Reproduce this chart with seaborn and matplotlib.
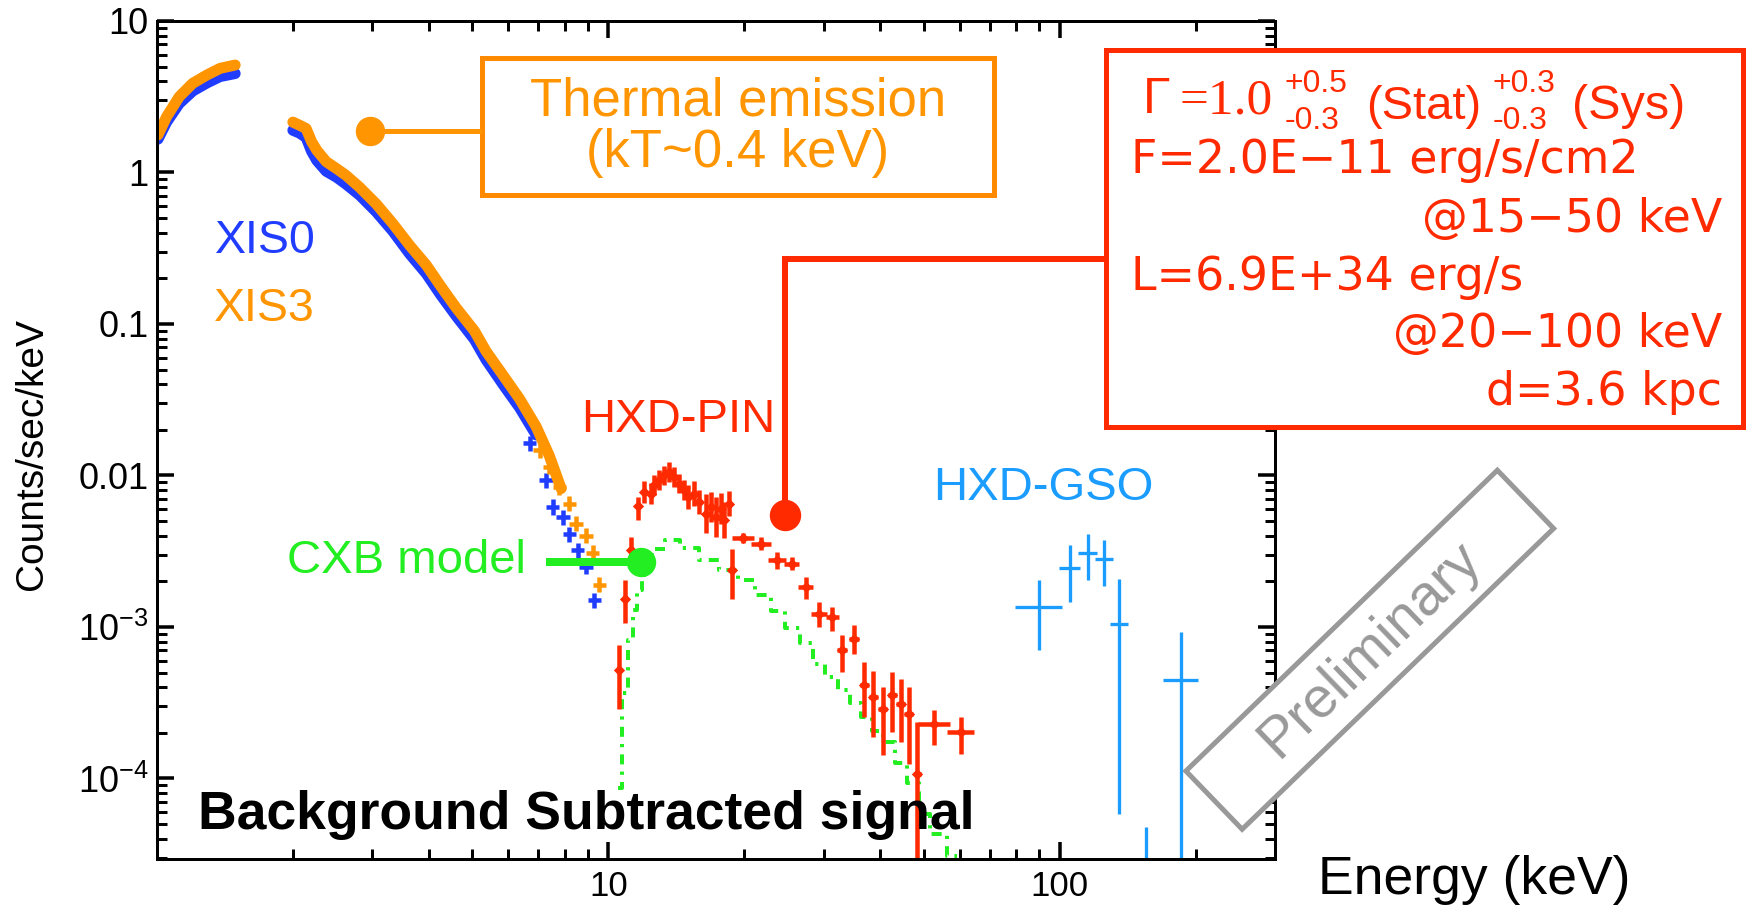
import numpy as np
import pandas as pd
import matplotlib
matplotlib.use("Agg")
import matplotlib.pyplot as plt
import seaborn as sns
from matplotlib.patches import Rectangle
from matplotlib.lines import Line2D
from matplotlib import transforms
from matplotlib.ticker import FixedLocator, FixedFormatter, LogLocator, NullFormatter

# ---------------- data ----------------
xis3_seg1_e = [1.005, 1.05, 1.12, 1.20, 1.29, 1.38, 1.49]
xis3_seg1_c = [1.77, 2.33, 3.16, 3.88, 4.40, 4.87, 5.12]
xis0_seg1_e = [1.005, 1.05, 1.12, 1.20, 1.29, 1.38, 1.49]
xis0_seg1_c = [1.66, 2.15, 2.85, 3.45, 3.90, 4.30, 4.50]

xis3_seg2_e = [2.00, 2.07, 2.14, 2.20, 2.26, 2.37, 2.50, 2.62, 2.81, 3.06, 3.33,
               3.63, 3.95, 4.25, 4.60, 5.05, 5.36, 5.84, 6.36, 6.92, 7.40, 7.86]
xis3_seg2_c = [2.15, 2.05, 1.95, 1.60, 1.40, 1.18, 1.06, 0.96, 0.80, 0.62, 0.46,
               0.33, 0.245, 0.178, 0.128, 0.090, 0.066, 0.046, 0.032, 0.021, 0.0135, 0.0082]
xis0_seg2_e = [2.00, 2.07, 2.14, 2.20, 2.26, 2.37, 2.50, 2.62, 2.81, 3.06, 3.33,
               3.63, 3.95, 4.25, 4.60, 5.05, 5.36, 5.84, 6.36, 6.92]
xis0_seg2_c = [1.90, 1.82, 1.70, 1.38, 1.20, 1.02, 0.93, 0.84, 0.71, 0.55, 0.41,
               0.29, 0.215, 0.156, 0.113, 0.079, 0.058, 0.040, 0.028, 0.0185]

xis3_tail_e = [7.04, 7.40, 7.79, 8.20, 8.48, 8.93, 9.23, 9.55]
xis3_tail_c = [0.0147, 0.0114, 0.0084, 0.0065, 0.0048, 0.0040, 0.0031, 0.0019]
xis0_tail_e = [6.69, 7.28, 7.53, 7.93, 8.20, 8.55, 8.93, 9.31]
xis0_tail_c = [0.0163, 0.0093, 0.0062, 0.0053, 0.0041, 0.0032, 0.0025, 0.0015]

pin_e = [10.58, 10.90, 11.22, 11.61, 12.02, 12.43, 12.64, 12.97, 13.30, 13.65, 14.00,
         14.36, 14.73, 14.98, 15.49, 15.90, 16.45, 16.87, 17.31, 17.76, 18.06, 18.52,
         18.78, 19.89, 21.77, 23.70, 25.50, 27.38, 29.30, 31.35, 33.00, 35.02, 36.86,
         38.64, 40.59, 42.56, 44.42, 46.34, 48.35, 52.62, 60.30]
pin_c = [5.17e-4, 1.54e-3, 3.21e-3, 6.26e-3, 7.78e-3, 7.59e-3, 8.61e-3, 9.29e-3, 1.00e-2,
         1.05e-2, 9.77e-3, 8.84e-3, 7.98e-3, 7.21e-3, 7.59e-3, 6.68e-3, 5.60e-3, 6.19e-3,
         5.32e-3, 6.04e-3, 5.06e-3, 6.52e-3, 2.36e-3, 3.89e-3, 3.55e-3, 2.75e-3, 2.62e-3,
         1.83e-3, 1.22e-3, 1.16e-3, 7.00e-4, 8.37e-4, 4.11e-4, 3.44e-4, 2.89e-4, 3.53e-4,
         3.11e-4, 2.67e-4, 1.07e-4, 2.30e-4, 2.02e-4]
pin_up_dex = [0.165, 0.121, 0.088, 0.062, 0.07, 0.07, 0.065, 0.065, 0.065, 0.065, 0.065,
              0.065, 0.065, 0.08, 0.08, 0.08, 0.13, 0.10, 0.13, 0.10, 0.12, 0.08,
              0.143, 0.033, 0.044, 0.055, 0.044, 0.066, 0.077, 0.066, 0.099, 0.088, 0.154,
              0.176, 0.143, 0.154, 0.165, 0.176, 0.341, 0.088, 0.099]
pin_lo_dex = [0.253, 0.161, 0.066, 0.088, 0.07, 0.07, 0.065, 0.065, 0.065, 0.065, 0.065,
              0.065, 0.065, 0.08, 0.08, 0.08, 0.13, 0.10, 0.13, 0.10, 0.12, 0.08,
              0.187, 0.033, 0.044, 0.055, 0.044, 0.077, 0.088, 0.088, 0.143, 0.099, 0.209,
              0.264, 0.308, 0.242, 0.253, 0.33, 2.0, 0.143, 0.143]
pin_x_dex = [0.006, 0.006, 0.006, 0.006, 0.006, 0.006, 0.006, 0.006, 0.006, 0.006, 0.006,
             0.006, 0.006, 0.006, 0.006, 0.006, 0.006, 0.006, 0.006, 0.006, 0.006, 0.006,
             0.008, 0.024, 0.022, 0.020, 0.017, 0.017, 0.017, 0.015, 0.011, 0.011, 0.010,
             0.010, 0.010, 0.010, 0.010, 0.010, 0.008, 0.035, 0.030]

gso_e = [89.85, 105.2, 115.3, 125.1, 135.5, 185.5, 155.2]
gso_c = [1.35e-3, 2.46e-3, 3.08e-3, 2.80e-3, 1.05e-3, 4.44e-4, 1.0e-5]
gso_e_lo = [79.8, 99.5, 109.8, 119.9, 129.5, 169.0, 155.2]
gso_e_hi = [101.2, 111.1, 120.9, 131.2, 141.6, 202.3, 155.2]
gso_c_lo = [7.0e-4, 1.46e-3, 2.05e-3, 1.85e-3, 5.85e-5, 1e-6, 1e-6]
gso_c_hi = [2.03e-3, 3.46e-3, 4.13e-3, 3.73e-3, 2.08e-3, 9.25e-4, 4.77e-5]

cxb_e = [10.52, 10.90, 11.24, 11.47, 11.71, 12.02, 12.39, 12.90, 13.79, 15.11, 16.73,
         18.52, 20.20, 22.13, 23.65, 25.53, 27.56, 29.30, 31.15, 33.28, 35.20, 37.41,
         39.37, 41.64, 44.48, 47.53, 50.02, 53.44, 59.17]
cxb_c = [8.59e-5, 3.64e-4, 8.15e-4, 1.29e-3, 1.75e-3, 2.19e-3, 2.97e-3, 3.25e-3, 3.73e-3,
         3.30e-3, 2.75e-3, 2.36e-3, 2.03e-3, 1.62e-3, 1.27e-3, 9.80e-4, 7.80e-4, 5.66e-4,
         4.65e-4, 3.81e-4, 3.13e-4, 2.53e-4, 2.07e-4, 1.73e-4, 1.26e-4, 9.27e-5, 5.87e-5,
         4.33e-5, 3.10e-5]

thermal_anchor = (2.96, 1.89)
pin_anchor = (24.6, 5.5e-3)
cxb_anchor = (11.8, 2.7e-3)

xticks = [10, 100]
xtick_labels = ["10", "100"]
yticks = [10, 1, 0.1, 0.01, 1e-3, 1e-4]
ytick_labels = ["10", "1", "0.1", "0.01", r"$\mathregular{10^{-3}}$", r"$\mathregular{10^{-4}}$"]

# ---------------- style ----------------
sns.set_theme(style="ticks")
plt.rcParams["font.family"] = ["Liberation Sans", "DejaVu Sans"]
plt.rcParams["mathtext.fontset"] = "custom"
plt.rcParams["mathtext.rm"] = "Liberation Sans"
plt.rcParams["mathtext.it"] = "Liberation Sans:italic"
plt.rcParams["mathtext.bf"] = "Liberation Sans:bold"

C_BLUE = "#1f3cff"
C_ORANGE = "#ff9500"
C_RED = "#ff2a00"
C_GREEN = "#22ee22"
C_GSO = "#1b9cff"
C_GRAY = "#999999"
PX = 0.72  # points per pixel at dpi 100

W, H, DPI = 1746, 905, 100
fig = plt.figure(figsize=(W / DPI, H / DPI), dpi=DPI)
fig.patch.set_facecolor("white")
ax = fig.add_axes([157 / W, 1 - 859 / H, (1275 - 157) / W, (859 - 21) / H])
ax.set_facecolor("white")


def fx(px):
    return px / W


def fy(py):
    return 1 - py / H


ax.set_xscale("log")
ax.set_yscale("log")
ax.set_xlim(1.0, 300)
ax.set_ylim(2.94e-5, 10)

# XIS bands
for e, c in [(xis0_seg1_e, xis0_seg1_c), (xis0_seg2_e, xis0_seg2_c)]:
    sns.lineplot(x=e, y=c, ax=ax, color=C_BLUE, lw=11 * PX, estimator=None, sort=False,
                 solid_capstyle="round", zorder=3)
for e, c in [(xis3_seg1_e, xis3_seg1_c), (xis3_seg2_e, xis3_seg2_c)]:
    sns.lineplot(x=e, y=c, ax=ax, color=C_ORANGE, lw=11 * PX, estimator=None, sort=False,
                 solid_capstyle="round", zorder=4)

for e, c, col, z in [(xis0_tail_e, xis0_tail_c, C_BLUE, 3), (xis3_tail_e, xis3_tail_c, C_ORANGE, 4)]:
    e = np.array(e)
    c = np.array(c)
    ax.errorbar(e, c, xerr=[e - e * 10 ** -0.015, e * 10 ** 0.015 - e],
                yerr=[c - c * 10 ** -0.05, c * 10 ** 0.05 - c],
                fmt="none", ecolor=col, elinewidth=4.5 * PX, capsize=0, zorder=z)

# CXB model
sns.lineplot(x=cxb_e, y=cxb_c, ax=ax, color=C_GREEN, lw=4 * PX, estimator=None, sort=False,
             drawstyle="steps-mid", dashes=False, linestyle=(0, (2.5, 1.8, 0.8, 1.8)), zorder=5)

# HXD-PIN
pe = np.array(pin_e)
pc = np.array(pin_c)
pxd = np.array(pin_x_dex)
ax.errorbar(pe, pc,
            xerr=[pe - pe * 10 ** -pxd, pe * 10 ** pxd - pe],
            yerr=[pc - pc * 10 ** -np.array(pin_lo_dex), pc * 10 ** np.array(pin_up_dex) - pc],
            fmt="none", ecolor=C_RED, elinewidth=4.5 * PX, capsize=0, zorder=6)
sns.scatterplot(x=pin_e, y=pin_c, ax=ax, color=C_RED, marker="D", s=(8 * PX) ** 2,
                linewidth=0, zorder=7)

# HXD-GSO
ge = np.array(gso_e)
gc = np.array(gso_c)
ax.errorbar(ge, gc, xerr=[ge - np.array(gso_e_lo), np.array(gso_e_hi) - ge],
            yerr=[gc - np.array(gso_c_lo), np.array(gso_c_hi) - gc],
            fmt="none", ecolor=C_GSO, elinewidth=3.3 * PX, capsize=0, zorder=6)

# axes styling
for s in ax.spines.values():
    s.set_linewidth(3 * PX)
    s.set_color("black")
    s.set_zorder(8)
ax.xaxis.set_major_locator(FixedLocator(xticks))
ax.xaxis.set_major_formatter(FixedFormatter(xtick_labels))
ax.xaxis.set_minor_locator(LogLocator(base=10, subs=np.arange(2, 10)))
ax.xaxis.set_minor_formatter(NullFormatter())
ax.yaxis.set_major_locator(FixedLocator(yticks))
ax.yaxis.set_major_formatter(FixedFormatter(ytick_labels))
ax.yaxis.set_minor_locator(LogLocator(base=10, subs=np.arange(2, 10)))
ax.yaxis.set_minor_formatter(NullFormatter())
ax.tick_params(which="both", direction="in", top=True, right=True, colors="black")
ax.tick_params(which="major", length=17 * PX, width=3.5 * PX)
ax.tick_params(which="minor", length=10 * PX, width=3 * PX)
ax.tick_params(axis="y", which="major", pad=6, labelsize=26)
ax.tick_params(axis="x", which="major", pad=8, labelsize=25)
ax.set_xlabel("")
ax.set_ylabel("")
ax.grid(False)

# ---------------- annotations ----------------
fig.text(fx(32), fy(454), "Counts/sec/keV", rotation=90, ha="center", va="center",
         fontsize=28, color="black")
fig.text(fx(1318), fy(894), "Energy (keV)", ha="left", va="baseline", fontsize=38.5, color="black")
fig.text(fx(198), fy(829), "Background Subtracted signal", ha="left", va="baseline",
         fontsize=38.5, fontweight="bold", color="black", zorder=9)
fig.text(fx(215), fy(253), "XIS0", ha="left", va="baseline", fontsize=33.5, color=C_BLUE)
fig.text(fx(214), fy(321), "XIS3", ha="left", va="baseline", fontsize=33.5, color=C_ORANGE)
fig.text(fx(581), fy(432), "HXD-PIN", ha="left", va="baseline", fontsize=34, color=C_RED)
fig.text(fx(933), fy(500), "HXD-GSO", ha="left", va="baseline", fontsize=34, color=C_GSO)
fig.text(fx(287), fy(573), "CXB model", ha="left", va="baseline", fontsize=34, color=C_GREEN)


def disp(pt):
    return ax.transData.transform(pt)


def add_line(x0, y0, x1, y1, color, lw):
    # coordinates in figure pixels (origin top-left)
    fig.add_artist(Line2D([fx(x0), fx(x1)], [fy(y0), fy(y1)], transform=fig.transFigure,
                          color=color, lw=lw, solid_capstyle="butt", zorder=10))


# thermal box
fig.add_artist(Rectangle((fx(482), fy(195)), fx(994) - fx(482), fy(58) - fy(195),
                         transform=fig.transFigure, fill=True, facecolor="white",
                         edgecolor="#ff8a00", lw=5 * PX, zorder=10))
fig.text(fx(738), fy(116), "Thermal emission", ha="center", va="baseline", fontsize=38,
         color=C_ORANGE, zorder=11)
fig.text(fx(738), fy(167), "(kT~0.4 keV)", ha="center", va="baseline", fontsize=38,
         color=C_ORANGE, zorder=11)
tx, ty = disp(thermal_anchor)
add_line(tx, H - ty, 482, H - ty, C_ORANGE, 5 * PX)
ax.plot([thermal_anchor[0]], [thermal_anchor[1]], marker="o", ms=28 * PX, color=C_ORANGE,
        mec=C_ORANGE, clip_on=False, zorder=11)

# PIN fit box
fig.add_artist(Rectangle((fx(1106), fy(427)), fx(1743) - fx(1106), fy(50) - fy(427),
                         transform=fig.transFigure, fill=True, facecolor="white",
                         edgecolor=C_RED, lw=5 * PX, zorder=10))
px_, py_ = disp(pin_anchor)
add_line(px_, H - py_, px_, 259, C_RED, 6 * PX)
add_line(px_ - 3, 259, 1106, 259, C_RED, 6 * PX)
ax.plot([pin_anchor[0]], [pin_anchor[1]], marker="o", ms=30 * PX, color=C_RED, mec=C_RED,
        clip_on=False, zorder=11)

fig.text(fx(1143), fy(113), "Γ", ha="left", va="baseline", fontsize=36, color=C_RED, zorder=11)
fig.text(fx(1180), fy(113), "=1.0", ha="left", va="baseline", fontsize=37, color=C_RED,
         family="Liberation Serif", zorder=11)
fig.text(fx(1285), fy(92), "+0.5", ha="left", va="baseline", fontsize=23, color=C_RED, zorder=11)
fig.text(fx(1285), fy(129), "-0.3", ha="left", va="baseline", fontsize=23, color=C_RED, zorder=11)
fig.text(fx(1366), fy(119), "(Stat)", ha="left", va="baseline", fontsize=34, color=C_RED, zorder=11)
fig.text(fx(1493), fy(92), "+0.3", ha="left", va="baseline", fontsize=23, color=C_RED, zorder=11)
fig.text(fx(1493), fy(129), "-0.3", ha="left", va="baseline", fontsize=23, color=C_RED, zorder=11)
fig.text(fx(1572), fy(119), "(Sys)", ha="left", va="baseline", fontsize=35, color=C_RED, zorder=11)
box_lines = [("F=2.0E−11 erg/s/cm2", 1131, 173, "left"),
             ("@15−50 keV", 1722, 232, "right"),
             ("L=6.9E+34 erg/s", 1131, 290, "left"),
             ("@20−100 keV", 1722, 347, "right"),
             ("d=3.6 kpc", 1722, 405, "right")]
for txt, x0, y0, ha in box_lines:
    fig.text(fx(x0), fy(y0), txt, ha=ha, va="baseline", fontsize=33, color=C_RED,
             family="DejaVu Sans", zorder=11)

# CXB connector
cx, cy = disp(cxb_anchor)
add_line(546, H - cy, cx, H - cy, C_GREEN, 8 * PX)
ax.plot([cxb_anchor[0]], [cxb_anchor[1]], marker="o", ms=28 * PX, color=C_GREEN, mec=C_GREEN,
        clip_on=False, zorder=11)

# Preliminary stamp
ccx, ccy = 1369.75 / DPI, (H - 649.75) / DPI
bw, bh = 4.33, 0.81
rot = transforms.Affine2D().rotate_deg_around(ccx, ccy, 44) + fig.dpi_scale_trans
fig.add_artist(Rectangle((ccx - bw / 2, ccy - bh / 2), bw, bh, transform=rot, facecolor="white",
                         edgecolor=C_GRAY, lw=5 * PX, zorder=12))
fig.text(fx(1369.75), fy(649.75), "Preliminary", rotation=44, ha="center", va="center",
         rotation_mode="anchor", fontsize=41, color=C_GRAY, zorder=13)

fig.savefig("out.png", dpi=DPI, facecolor="white")
